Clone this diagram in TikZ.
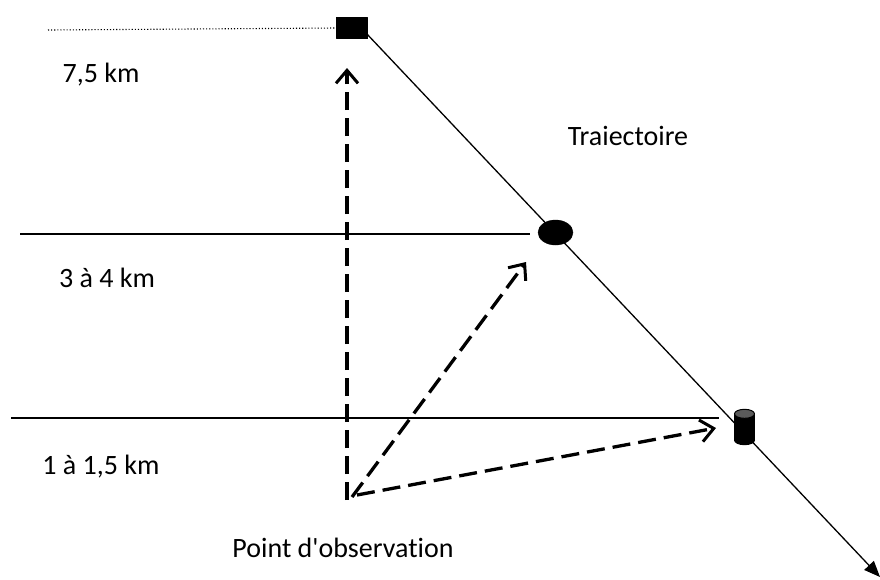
\documentclass[tikz,border=0pt]{standalone}
\usepackage{fontspec}
\setmainfont[Ligatures={TeXOff,NoCommon}]{Carlito}
\usetikzlibrary{arrows.meta,shapes.geometric}
\definecolor{lid}{HTML}{5A5A5A}

\begin{document}
\begin{tikzpicture}[x=1pt, y=-1pt, line join=round,
  level/.style={line width=1.1pt},
  sight/.style={dashed, dash pattern=on 18pt off 8pt, line width=3.3pt,
    -{Straight Barb[length=13pt,width=22pt,line width=3pt]}},
  lbl/.style={font=\fontsize{28}{32}\selectfont, inner sep=0pt}]
  \useasboundingbox (0,0) rectangle (880,579);
  % observation points (feet of the sight lines)
  \coordinate (P1) at (347,500);
  \coordinate (P2) at (352,497);
  \coordinate (P3) at (357,495);
  % altitude levels
  \coordinate (L0) at (48,30);
  \coordinate (L1a) at (20,234);
  \coordinate (L1b) at (530,234);
  \coordinate (L2a) at (11,418);
  \coordinate (L2b) at (719,418);
  \coordinate (E) at (880,577);
  % trajectory line (behind the objects)
  \draw[line width=1.3pt, -{Triangle[length=16pt,width=13pt]}] (366,33) -- (E);
  % objects along the trajectory
  \node (sq) [draw, fill=black, minimum width=31pt, minimum height=21pt,
    inner sep=0pt] at (352,28) {};
  \node (ov) [ellipse, draw, fill=black, minimum width=35pt, minimum height=25pt,
    inner sep=0pt] at (555.5,232.5) {};
  \node (cy) [fill=black, minimum width=21pt, minimum height=26pt,
    inner sep=0pt] at (744.5,427) {};
  \fill[black] (cy.south) ellipse (10.5pt and 5pt);
  \filldraw[fill=lid, draw=black, line width=1pt] (cy.north) ellipse (10pt and 4.5pt);
  % levels
  \draw[dotted, line width=1.1pt] (L0) -- (sq.west);
  \draw[level] (L1a) -- (L1b);
  \draw[level] (L2a) -- (L2b);
  % sight lines
  \draw[sight] (P1) -- (347,68);
  \draw[sight] (P2) -- (526,262);
  \draw[sight] (P3) -- (716,428);
  % labels
  \node (h75) [lbl] at (101,75) {7,5 km};
  \node (h34) [lbl] at (107,278) {3 à 4 km};
  \node (h15) [lbl] at (101,467) {1 à 1,5 km};
  \node (tr)  [lbl] at (628,136) {Traiectoire};
  \node (obs) [lbl] at (343,548) {Point d'observation};
\end{tikzpicture}
\end{document}
